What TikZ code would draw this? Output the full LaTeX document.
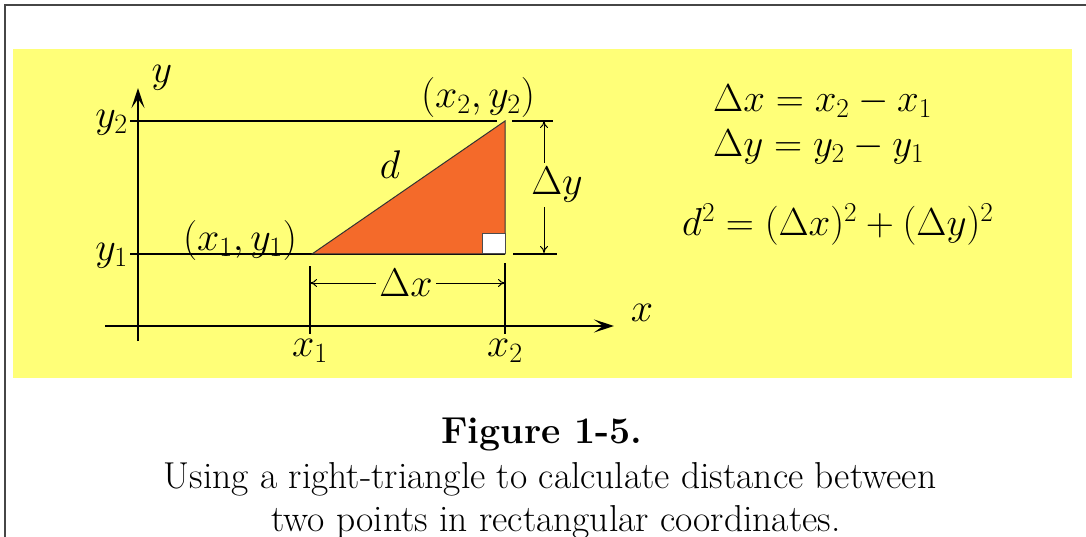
\RequirePackage{fix-cm}
\documentclass[tikz,border=0pt]{standalone}
\usetikzlibrary{arrows.meta}
\definecolor{bgyellow}{RGB}{255,255,120}
\definecolor{triorange}{RGB}{244,106,42}
\definecolor{framegray}{RGB}{70,70,70}
\begin{document}
\begin{tikzpicture}[x=1pt,y=-1pt,
  lbl/.style={inner sep=0pt,font=\fontsize{40}{46}\selectfont},
  eqn/.style={inner sep=0pt,anchor=base west,font=\fontsize{39}{46}\selectfont},
  captext/.style={inner sep=0pt,font=\fontsize{37.5}{44}\selectfont},
  axisline/.style={line width=2.4pt,-{Stealth[length=20pt,width=13pt,inset=9pt]}},
  gridline/.style={line width=1.6pt},
  thinline/.style={line width=1.2pt},
  dimline/.style={line width=1pt,{To[length=7pt,width=8pt]}-{To[length=7pt,width=8pt]}}]
\useasboundingbox (0,0) rectangle (1086,537);
\draw[framegray,line width=1.8pt] (5,545) -- (5,5) -- (1095,5);
\fill[bgyellow] (13,49) rectangle (1072,378);
% coordinates
\coordinate (ybot) at (138,341);
\coordinate (ytop) at (138,88);
\coordinate (xleft) at (105,326);
\coordinate (xright) at (614,326);
\coordinate (P1) at (312,254);
\coordinate (P2) at (505,121);
\coordinate (C) at (505,254);
\coordinate (y2s) at (130,121);
\coordinate (y2e) at (497,121);
\coordinate (y1s) at (130,254);
% rectangle lines
\draw[gridline] (y2s) -- (y2e);
\draw[gridline] (y1s) -- (C);
% triangle
\filldraw[fill=triorange,draw=black!80,line width=1pt] (P1) -- (P2) -- (C) -- cycle;
\filldraw[fill=white,draw=black!70,line width=1pt] (482,234) rectangle (C);
% axes
\draw[axisline] (ybot) -- (ytop);
\draw[axisline] (xleft) -- (xright);
% ticks at x1, x2
\coordinate (x1t) at (310,266);
\coordinate (x1b) at (310,334);
\coordinate (x2t) at (505,263);
\coordinate (x2b) at (505,334);
\draw[thinline] (x1t) -- (x1b);
\draw[thinline] (x2t) -- (x2b);
% extension lines
\coordinate (e1s) at (512,121); \coordinate (e1e) at (553,121);
\coordinate (e2s) at (513,254); \coordinate (e2e) at (557,254);
\draw[thinline] (e1s) -- (e1e);
\draw[thinline] (e2s) -- (e2e);
% dimension arrows
\coordinate (dxl) at (310,283); \coordinate (dxr) at (505,283);
\draw[dimline] (dxl) -- (dxr);
\node[lbl,fill=bgyellow,inner xsep=3pt,inner ysep=1pt] (dx) at (406,283) {$\Delta x$};
\coordinate (dyt) at (544,121); \coordinate (dyb) at (544,253);
\draw[dimline] (dyt) -- (dyb);
\node[lbl,fill=bgyellow,inner xsep=2pt,inner ysep=4pt] (dy) at (557,185) {$\Delta y$};
% labels
\node[lbl] (ylab) at (162,78) {$y$};
\node[lbl] (xlab) at (642,313) {$x$};
\node[lbl,anchor=east] (y2lab) at (128,123) {$y_2$};
\node[lbl,anchor=east] (y1lab) at (128,256) {$y_1$};
\node[lbl] (p1lab) at (240,241) {$(x_1,y_1)$};
\node[lbl] (p2lab) at (478,98) {$(x_2,y_2)$};
\node[lbl] (dlab) at (390,165) {$d$};
\node[lbl] (x1lab) at (310,351) {$x_1$};
\node[lbl] (x2lab) at (505,351) {$x_2$};
% equations
\node[eqn] (eq1) at (713,112) {$\Delta x = x_2 - x_1$};
\node[eqn] (eq2) at (713,157) {$\Delta y = y_2 - y_1$};
\node[eqn] (eq3) at (682,236) {$d^2 = (\Delta x)^2 + (\Delta y)^2$};
% caption
\node[captext,font=\fontsize{37.5}{44}\selectfont\bfseries] (fig) at (542,434) {Figure 1-5.};
\node[captext] (c1) at (550,479) {Using a right-triangle to calculate distance between};
\node[captext] (c2) at (556,522) {two points in rectangular coordinates.};
\end{tikzpicture}
\end{document}
